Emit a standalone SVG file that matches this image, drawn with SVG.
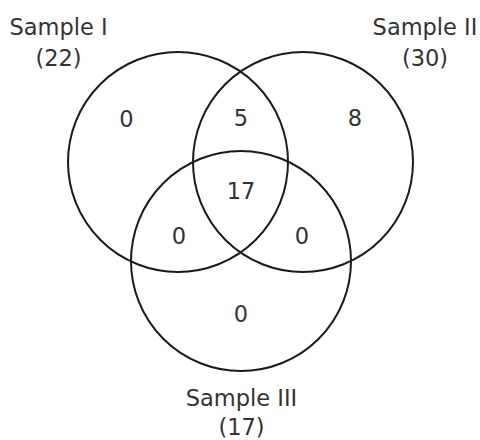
<svg xmlns="http://www.w3.org/2000/svg" width="480" height="440" viewBox="0 0 480 440">
<style>
.set{fill:none;stroke:#1a1a1a;stroke-width:2}
text{font-family:"DejaVu Sans","Liberation Sans",sans-serif;font-size:22.5px;fill:#333;text-anchor:middle}
</style>
<rect width="480" height="440" fill="#fff"/>
<g id="set-sample-i">
<circle class="set" cx="178" cy="162" r="110"/>
<text x="58.5" y="35">Sample I</text>
<text x="58.5" y="66">(22)</text>
</g>
<g id="set-sample-ii">
<circle class="set" cx="303" cy="162" r="110"/>
<text x="425" y="35">Sample II</text>
<text x="425" y="66">(30)</text>
</g>
<g id="set-sample-iii">
<circle class="set" cx="241" cy="261" r="110"/>
<text x="241.5" y="406">Sample III</text>
<text x="241.5" y="435">(17)</text>
</g>
<g id="counts">
<text x="126.5" y="127">0</text>
<text x="241" y="126">5</text>
<text x="355" y="126">8</text>
<text x="241" y="199">17</text>
<text x="179" y="244">0</text>
<text x="302" y="244">0</text>
<text x="241" y="322">0</text>
</g>
</svg>
